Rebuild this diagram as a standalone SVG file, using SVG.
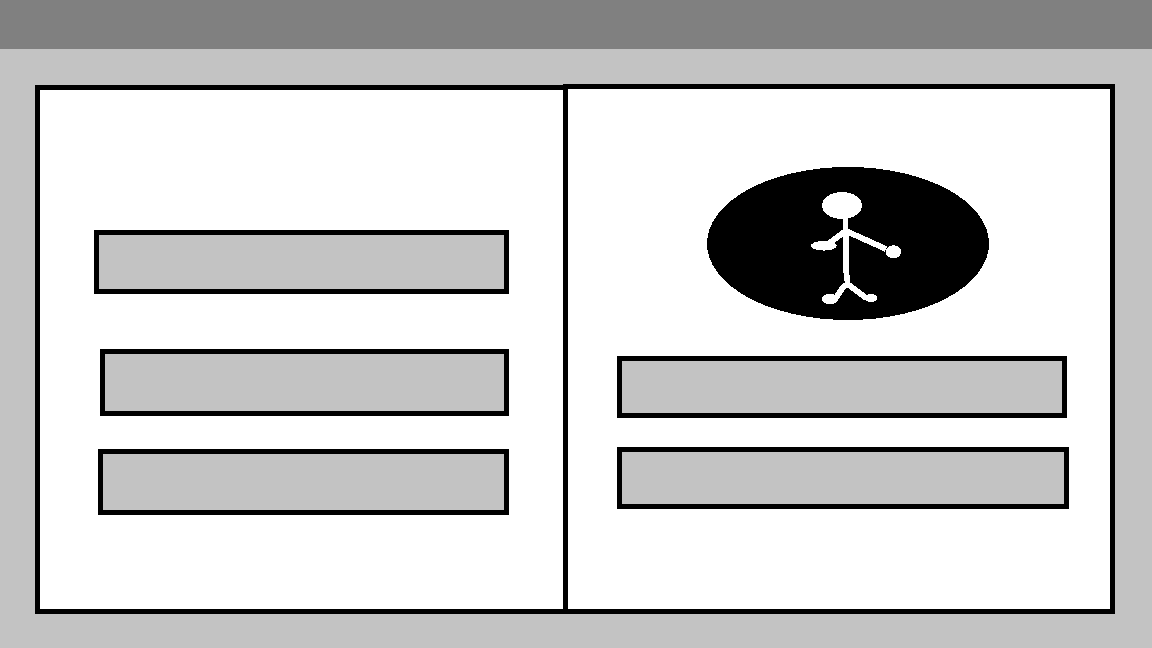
<svg xmlns="http://www.w3.org/2000/svg" width="1152" height="648" viewBox="0 0 1152 648">
<style>
.panel{fill:#fff;stroke:#000;stroke-width:5}
.box{fill:#c3c3c3;stroke:#000;stroke-width:5}
.limb{fill:none;stroke:#fff;stroke-width:5.8;stroke-linejoin:round}
.white{fill:#fff}
.all{shape-rendering:crispEdges}
</style>
<g class="all">
<rect id="background" width="1152" height="648" fill="#c3c3c3"/>
<rect id="topbar" width="1152" height="49" fill="#808080"/>
<rect id="panel-left" class="panel" x="37.5" y="87.5" width="528" height="524"/>
<rect id="panel-right" class="panel" x="565.5" y="86.5" width="547" height="525"/>
<g id="left-boxes">
<rect id="box-l1" class="box" x="96.5" y="232.5" width="410" height="59"/>
<rect id="box-l2" class="box" x="102.5" y="351.5" width="404" height="62"/>
<rect id="box-l3" class="box" x="100.5" y="451.5" width="406" height="61"/>
</g>
<g id="right-boxes">
<rect id="box-r1" class="box" x="619.5" y="358.5" width="445" height="57"/>
<rect id="box-r2" class="box" x="619.5" y="449.5" width="447" height="57"/>
</g>
<g id="actor">
<ellipse cx="848" cy="243.5" rx="141" ry="76.5" fill="#000"/>
<ellipse class="white" cx="842" cy="205.5" rx="20" ry="13.5"/>
<path class="limb" d="M845.5 218L846 270L848 286"/>
<path class="limb" d="M845.5 231L828 244"/>
<path class="limb" d="M846 231L886 249"/>
<path class="limb" d="M835 299L844 286L849 285L866 298"/>
<ellipse class="white" cx="823.8" cy="245.8" rx="12.8" ry="4.8"/>
<ellipse class="white" cx="893.4" cy="251.8" rx="7.7" ry="6.5"/>
<ellipse class="white" cx="830" cy="299" rx="8" ry="5.2"/>
<ellipse class="white" cx="871" cy="298" rx="6" ry="4"/>
</g>
</g>
</svg>
